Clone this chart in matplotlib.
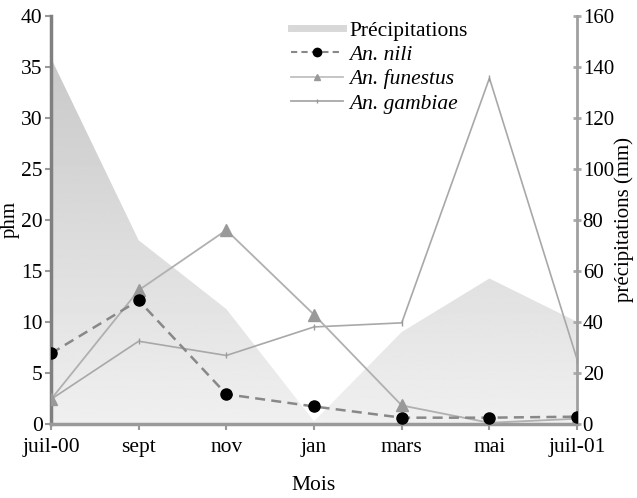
import numpy as np
import matplotlib
matplotlib.use("Agg")
import matplotlib.pyplot as plt
from matplotlib.lines import Line2D

plt.rcParams['font.family'] = ['Liberation Serif', 'DejaVu Serif']

months = ["juil-00", "sept", "nov", "jan", "mars", "mai", "juil-01"]
precip = [143.5, 72, 45, 1, 36, 57, 40]
nili = [6.9, 12.1, 2.9, 1.7, 0.6, 0.6, 0.7]
funestus = [2.4, 13.1, 19.0, 10.7, 1.8, 0.1, 0.5]
gambiae = [2.4, 8.1, 6.7, 9.5, 9.9, 33.9, 6.3]
left_ticks = [0, 5, 10, 15, 20, 25, 30, 35, 40]
right_ticks = [0, 20, 40, 60, 80, 100, 120, 140, 160]

fig = plt.figure(figsize=(6.37, 4.98), dpi=100)
ax = fig.add_axes([0.080, 0.149, 0.826, 0.819])
ax2 = ax.twinx()
ax.set_zorder(ax2.get_zorder() + 1)
ax.patch.set_visible(False)

x = np.arange(len(months))

# precipitation gradient fill
poly = ax2.fill_between(x, 0, precip, color='none', lw=0)
grad = np.linspace(0.94, 0.77, 256).reshape(-1, 1)
img = ax2.imshow(grad, cmap='gray', vmin=0, vmax=1, aspect='auto',
                 extent=[x[0], x[-1], 0, 160], origin='lower', zorder=1)
path = poly.get_paths()[0]
img.set_clip_path(path, transform=ax2.transData)
ax2.set_ylim(0, 160)
ax2.set_xlim(x[0], x[-1])

ax.plot(x, gambiae, color='#a8a8a8', lw=1.2, marker='|', ms=4, mew=1, mec='#999999', zorder=3)
ax.plot(x, funestus, color='#b0b0b0', lw=1.3, marker='^', ms=8, mfc='#999999', mec='#999999', zorder=3)
ax.plot(x, nili, color='#888888', lw=1.8, ls=(0, (4, 2.5)), marker='o', ms=8, mfc='black', mec='black', zorder=4)

ax.set_xlim(x[0], x[-1])
ax.set_ylim(0, 40)
ax.set_xticks(x)
ax.set_xticklabels(months)
ax.set_yticks(left_ticks)
ax2.set_yticks(right_ticks)

for a in (ax, ax2):
    a.spines['top'].set_visible(False)
ax2.spines['left'].set_visible(False)
ax2.spines['bottom'].set_visible(False)
ax.spines['right'].set_visible(False)
ax.spines['left'].set_color('#808080')
ax.spines['left'].set_linewidth(2.5)
ax.spines['bottom'].set_color('#9a9a9a')
ax.spines['bottom'].set_linewidth(2.5)
ax2.spines['right'].set_color('#a0a0a0')
ax2.spines['right'].set_linewidth(2)

ax.tick_params(axis='both', labelsize=15.5, colors='#999999', labelcolor='black', length=4, width=1.5)
ax.tick_params(axis='y', pad=2)
ax.tick_params(axis='x', pad=6)
ax2.tick_params(axis='y', labelsize=15, colors='#aaaaaa', labelcolor='black', direction='inout', length=6, width=2, pad=1)

ax.set_ylabel("phm", fontsize=15, labelpad=1)
ax2.set_ylabel("précipitations (mm)", fontsize=15, labelpad=0)
ax.set_xlabel("Mois", fontsize=15.5, labelpad=14)

handles = [
    Line2D([], [], color='#d8d8d8', lw=5),
    Line2D([], [], color='#888888', lw=1.5, ls=(0, (3, 2)), marker='o', ms=6, mfc='black', mec='black'),
    Line2D([], [], color='#c0c0c0', lw=1.3, marker='^', ms=5, mfc='#999999', mec='#999999'),
    Line2D([], [], color='#a8a8a8', lw=1.3, marker='|', ms=3, mec='#999999'),
]
labels = ["Précipitations", "An. nili", "An. funestus", "An. gambiae"]
leg = ax.legend(handles, labels, loc='upper left', bbox_to_anchor=(0.44, 1.01), frameon=False,
                fontsize=15.5, handlelength=2.4, labelspacing=0.2, handletextpad=0.3, borderaxespad=0)
for t in leg.get_texts()[1:]:
    t.set_style('italic')

fig.savefig("out.png", dpi=100)
